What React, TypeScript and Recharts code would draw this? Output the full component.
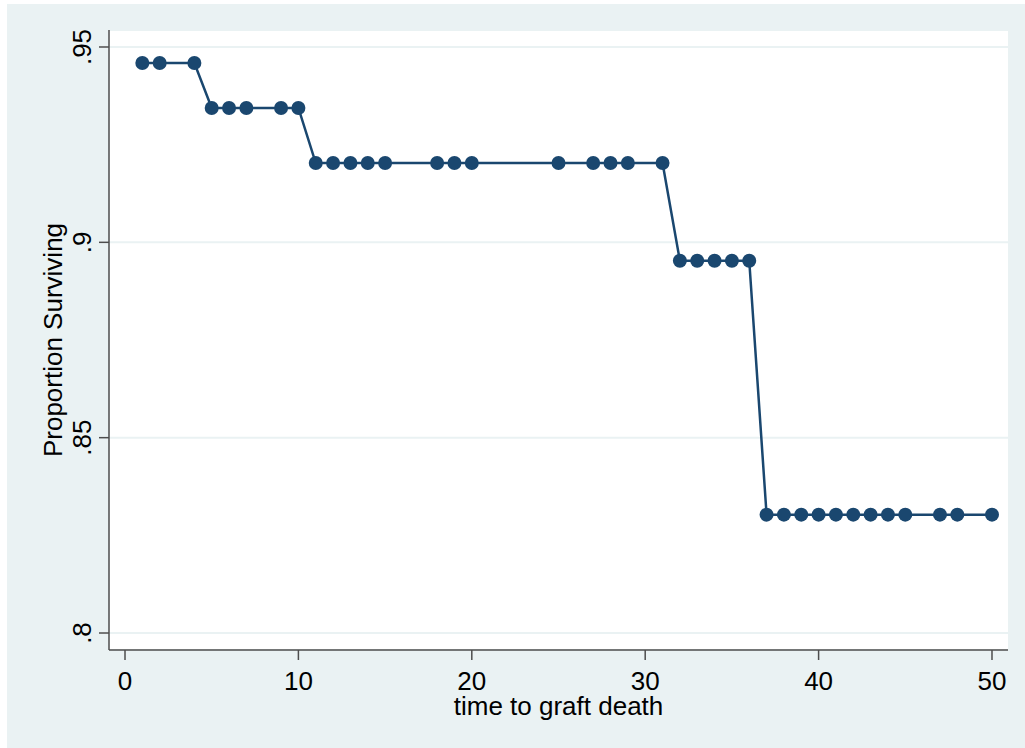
import React from 'react';
import { LineChart, Line, CartesianGrid, XAxis, YAxis, Label } from 'recharts';

// time to graft death and the proportion surviving at each observed time
const times = [1, 2, 4, 5, 6, 7, 9, 10, 11, 12, 13, 14, 15, 18, 19, 20, 25, 27, 28, 29, 31, 32, 33, 34, 35, 36, 37, 38, 39, 40, 41, 42, 43, 44, 45, 47, 48, 50];
const surviving = [
  0.9459, 0.9459, 0.9459,
  0.9344, 0.9344, 0.9344, 0.9344, 0.9344,
  0.9203, 0.9203, 0.9203, 0.9203, 0.9203, 0.9203, 0.9203, 0.9203, 0.9203, 0.9203, 0.9203, 0.9203, 0.9203,
  0.8953, 0.8953, 0.8953, 0.8953, 0.8953,
  0.8303, 0.8303, 0.8303, 0.8303, 0.8303, 0.8303, 0.8303, 0.8303, 0.8303, 0.8303, 0.8303, 0.8303,
];
const xTicks = [0, 10, 20, 30, 40, 50];
const yTicks = [0.8, 0.85, 0.9, 0.95];
const yTickLabels = ['.8', '.85', '.9', '.95'];

const data = times.map((t, i) => ({ t, s: surviving[i] }));

const FONT = '"Liberation Sans", Arial, Helvetica, sans-serif';
const NAVY = '#1a476f';
const AXIS = '#4d4d4d';

const YTick = (props: any) => {
  const { x, y, payload } = props;
  const idx = yTicks.indexOf(payload.value);
  const tx = x - 8;
  return (
    <text x={tx} y={y} textAnchor="middle" transform={`rotate(-90, ${tx}, ${y})`} fontSize={26} fontFamily={FONT} fill="#000">
      {idx >= 0 ? yTickLabels[idx] : payload.value}
    </text>
  );
};

const XTick = (props: any) => {
  const { x, y, payload } = props;
  return (
    <text x={x} y={y + 30} textAnchor="middle" fontSize={26} fontFamily={FONT} fill="#000">
      {payload.value}
    </text>
  );
};

const App: React.FC = () => {
  return (
    <div style={{ position: 'absolute', left: 7, top: 4, width: 1018, height: 744, background: '#eaf2f3' }}>
      <LineChart width={1018} height={744} data={data} margin={{ top: 26, right: 17, left: 0, bottom: 0 }}>
        <CartesianGrid vertical={false} horizontal fill="#ffffff" stroke="#eaf2f3" strokeWidth={2} />
        <XAxis
          dataKey="t"
          type="number"
          domain={[-0.923, 50.923]}
          ticks={xTicks}
          allowDataOverflow
          height={98}
          tickSize={10}
          tickMargin={0}
          stroke={AXIS}
          strokeWidth={1.5}
          tick={<XTick />}
        >
          <Label value="time to graft death" position="insideBottom" offset={33} fontSize={26} fontFamily={FONT} fill="#000" />
        </XAxis>
        <YAxis
          dataKey="s"
          type="number"
          domain={[0.79565, 0.95435]}
          ticks={yTicks}
          allowDataOverflow
          width={102}
          tickSize={10}
          tickMargin={0}
          stroke={AXIS}
          strokeWidth={1.5}
          tick={<YTick />}
        >
          <Label value="Proportion Surviving" angle={-90} position="insideLeft" offset={46} fontSize={26} fontFamily={FONT} fill="#000" style={{ textAnchor: 'middle' }} />
        </YAxis>
        <Line
          type="linear"
          dataKey="s"
          stroke={NAVY}
          strokeWidth={2.5}
          dot={{ r: 7, fill: NAVY, stroke: 'none' }}
          activeDot={false}
          isAnimationActive={false}
        />
      </LineChart>
    </div>
  );
};

export default App;
